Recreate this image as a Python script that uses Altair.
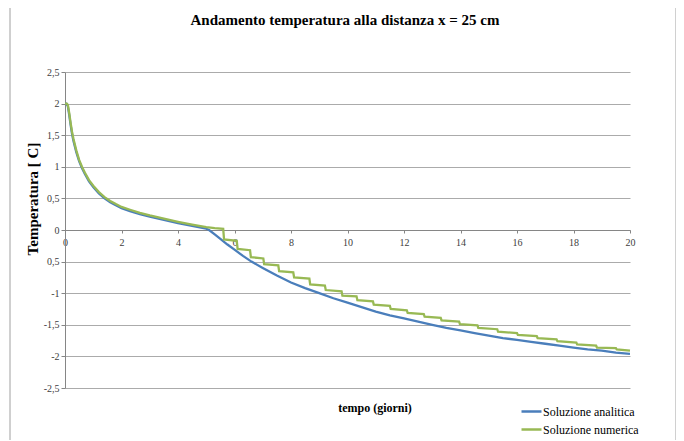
import altair as alt
import pandas as pd

title_text = "Andamento temperatura alla distanza x = 25 cm"
y_title = "Temperatura [ C]"
x_title = "tempo (giorni)"
series_names = ["Soluzione analitica", "Soluzione numerica"]
series_colors = ["#4a7ebb", "#98b954"]

x_ticks = [0, 2, 4, 6, 8, 10, 12, 14, 16, 18, 20]
y_ticks = [2.5, 2, 1.5, 1, 0.5, 0, -0.5, -1, -1.5, -2, -2.5]

t_analitica = [0, 0.05, 0.1, 0.15, 0.2, 0.25, 0.3, 0.4, 0.5, 0.6, 0.7, 0.85, 1.0, 1.2, 1.4,
               1.6, 1.8, 2.0, 2.3, 2.65, 3.0, 3.5, 4.0, 4.5, 5.0, 5.1, 5.3, 5.5, 5.75, 6.0,
               6.3, 6.6, 7.0, 7.5, 8.0, 8.5, 9.0, 9.5, 10.0, 10.5, 11.0, 11.5, 12.0, 12.5,
               13.0, 13.5, 14.0, 14.5, 15.0, 15.5, 16.0, 16.5, 17.0, 17.5, 18.0, 18.5,
               19.0, 19.5, 20.0]
v_analitica = [2.0, 2.0, 1.96, 1.82, 1.66, 1.52, 1.41, 1.23, 1.09, 0.98, 0.89, 0.77, 0.68,
               0.58, 0.50, 0.44, 0.39, 0.345, 0.30, 0.25, 0.21, 0.16, 0.11, 0.065, 0.02, 0.0,
               -0.07, -0.14, -0.23, -0.31, -0.41, -0.50, -0.60, -0.72, -0.83, -0.92, -1.0,
               -1.08, -1.15, -1.22, -1.29, -1.35, -1.40, -1.45, -1.50, -1.55, -1.59, -1.63,
               -1.67, -1.71, -1.74, -1.77, -1.80, -1.83, -1.86, -1.89, -1.91, -1.94, -1.96]

t_numerica = [0, 0.06, 0.1, 0.15, 0.2, 0.25, 0.3, 0.4, 0.5, 0.6, 0.7, 0.85, 1.0, 1.2, 1.4,
              1.6, 1.8, 2.0, 2.3, 2.65, 3.0, 3.5, 4.0, 4.5, 5.0, 5.3, 5.6,
              5.63, 6.08, 6.11, 6.55, 6.58, 7.02, 7.05, 7.55, 7.58, 8.08, 8.11, 8.65, 8.68,
              9.20, 9.23, 9.79, 9.82, 10.32, 10.35, 10.9, 10.93, 11.5, 11.53, 12.1, 12.13,
              12.7, 12.73, 13.3, 13.33, 13.95, 13.98, 14.6, 14.63, 15.3, 15.33, 16.0, 16.03,
              16.7, 16.73, 17.4, 17.43, 18.1, 18.13, 18.8, 18.83, 19.5, 19.53, 20.0]
v_numerica = [2.0, 2.0, 1.98, 1.85, 1.69, 1.55, 1.44, 1.26, 1.11, 1.0, 0.91, 0.79, 0.70,
              0.60, 0.52, 0.46, 0.41, 0.365, 0.32, 0.27, 0.23, 0.18, 0.13, 0.085, 0.045, 0.03,
              0.02,
              -0.15, -0.17, -0.30, -0.32, -0.43, -0.45, -0.54, -0.56, -0.65, -0.67, -0.75,
              -0.77, -0.86, -0.88, -0.95, -0.97, -1.04, -1.05, -1.11, -1.13, -1.18, -1.20,
              -1.25, -1.27, -1.31, -1.33, -1.37, -1.39, -1.43, -1.45, -1.49, -1.51, -1.55,
              -1.57, -1.61, -1.63, -1.66, -1.68, -1.71, -1.73, -1.76, -1.78, -1.81, -1.83,
              -1.86, -1.87, -1.89, -1.91]

df = pd.concat([
    pd.DataFrame({"t": t_analitica, "v": v_analitica, "serie": series_names[0]}),
    pd.DataFrame({"t": t_numerica, "v": v_numerica, "serie": series_names[1]}),
])

FONT = "Liberation Serif, Times New Roman, serif"
W, H = 565, 316

lines = alt.Chart(df).mark_line(strokeWidth=2.3).encode(
    x=alt.X("t:Q", scale=alt.Scale(domain=[0, 20], nice=False, zero=False),
            axis=alt.Axis(values=x_ticks, grid=False, title=None, offset=-158,
                          tickSize=3, tickColor="#868686", domainColor="#868686",
                          labelFont=FONT, labelFontSize=10, labelColor="#404040",
                          labelPadding=4, labelFlush=False)),
    y=alt.Y("v:Q", scale=alt.Scale(domain=[-2.5, 2.5], nice=False, zero=False),
            axis=alt.Axis(values=y_ticks, title=None, grid=True, gridColor="#ababab",
                          tickSize=4, tickColor="#868686", domainColor="#868686",
                          labelFont=FONT, labelFontSize=10, labelColor="#404040",
                          labelPadding=2,
                          labelExpr="datum.value == -0.5 ? '0,5' : replace(datum.value + '', '.', ',')")),
    color=alt.Color("serie:N", scale=alt.Scale(domain=series_names, range=series_colors),
                    legend=alt.Legend(orient="none", legendX=455, legendY=328, title=None,
                                      symbolType="stroke", symbolSize=400, symbolStrokeWidth=2.5,
                                      labelFont=FONT, labelFontSize=12, labelColor="black",
                                      rowPadding=-5, padding=0, labelOffset=0)),
)

def label(text, x, y, size, angle=0):
    return alt.Chart(pd.DataFrame({"label": [text]})).mark_text(
        font=FONT, fontSize=size, fontWeight="bold", color="black", angle=angle,
        align="center", baseline="middle").encode(
        x=alt.value(x), y=alt.value(y), text="label:N")

frame = alt.Chart(pd.DataFrame({"a": [0]})).mark_rect(
    fillOpacity=0, stroke="#a0a0a0", strokeWidth=1).encode(
    x=alt.value(-55), x2=alt.value(611), y=alt.value(-67), y2=alt.value(420))

chart = alt.layer(
    frame,
    lines,
    label(title_text, 280, -52, 15),
    label(y_title, -32, 127, 15, 270),
    label(x_title, 310, 336, 12),
).properties(
    width=W, height=H, autosize="none",
    padding={"left": 57, "top": 64, "right": 46, "bottom": 52},
).configure_view(stroke=None)

chart.save("out.html", embed_options={"renderer": "svg", "actions": False})
